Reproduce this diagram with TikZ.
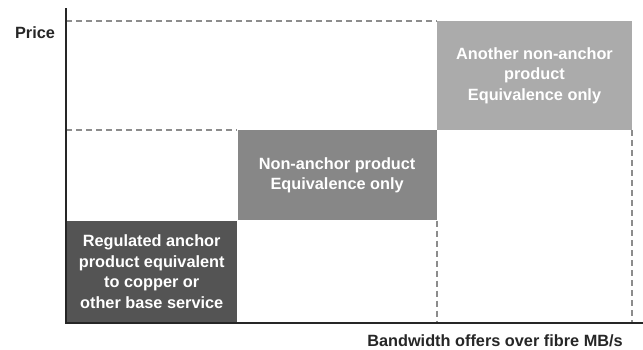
\documentclass[tikz,border=0pt]{standalone}
\usepackage{fontspec}
\setmainfont{Liberation Sans}
\usetikzlibrary{positioning}

\begin{document}
\begin{tikzpicture}[x=1pt,y=-1pt,
		box/.style={inner sep=0pt,align=center,text=white,anchor=south west,
			font=\bfseries\fontsize{16.3}{20.5}\selectfont},
		guide/.style={draw=black!45,line width=1.6pt,dash pattern=on 6pt off 4pt},
		axis/.style={draw=black!85,line width=2pt},
		label/.style={font=\bfseries\fontsize{16.3}{18}\selectfont,text=black!85}]
		\useasboundingbox (0,0) rectangle (643,349);
		\coordinate (o) at (66,323);
		\coordinate (ytop) at (66,8);
		\coordinate (xend) at (643,323);
		\node[box,fill=black!67,minimum width=171pt,minimum height=102pt] (base) at (o) {Regulated anchor\\product equivalent\\to copper or\\other base service};
		\node[box,fill=black!47,minimum width=199pt,minimum height=90pt] (mid) at (base.north east) {Non-anchor product\\Equivalence only};
		\node[box,fill=black!33,minimum width=195pt,minimum height=109pt] (top) at (mid.north east) {Another non-anchor\\product\\Equivalence only};
		\draw[guide] (o |- top.north west) -- (top.north west);
		\draw[guide] (o |- mid.north west) -- (mid.north west);
		\draw[guide] (mid.south east) -- (mid.south east |- o);
		\draw[guide] (top.south east) -- (top.south east |- o);
		\draw[axis] (ytop) -- (o) -- (xend);
		\node[label] (price) at (35,33) {Price};
		\node[label] (bandwidth) at (495,341) {Bandwidth offers over fibre MB/s};
\end{tikzpicture}
\end{document}
